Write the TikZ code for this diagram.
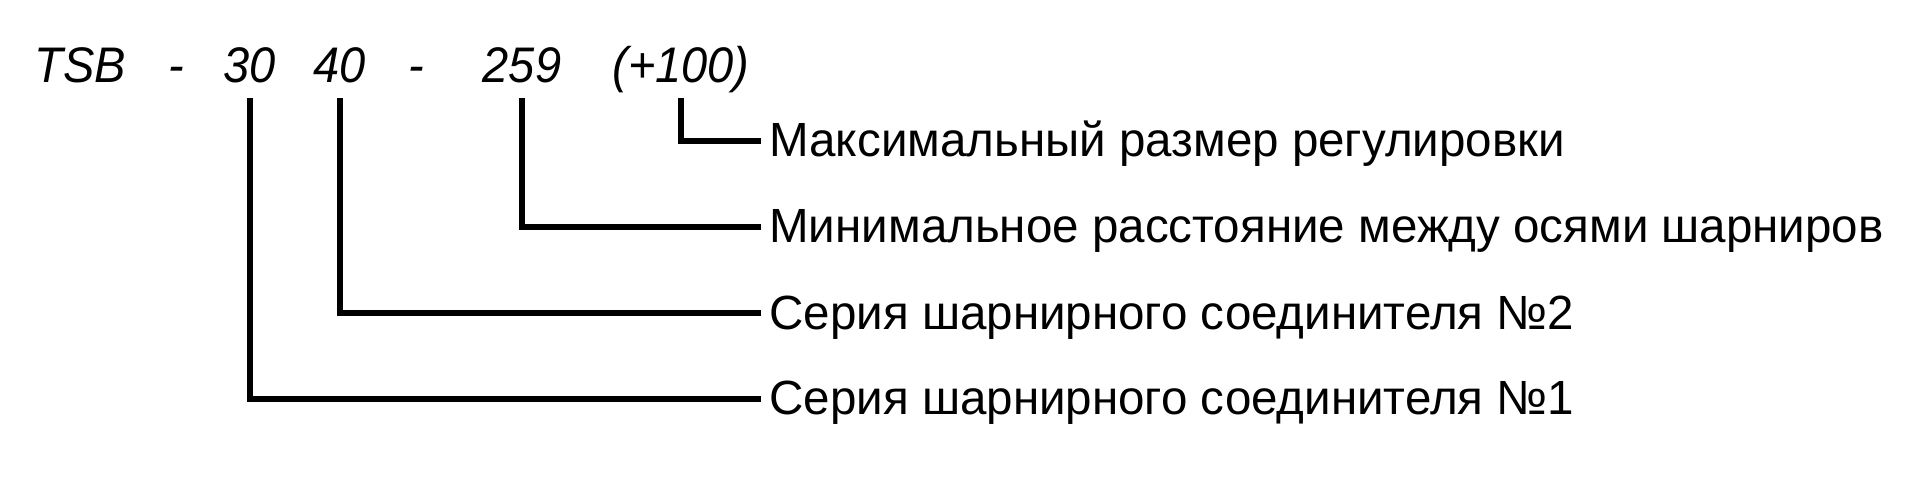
\documentclass[tikz,border=0pt]{standalone}
\usepackage{fontspec}
\setmainfont{Liberation Sans}
\newfontfamily\labfont[FakeStretch=0.99]{Liberation Sans}
\newfontfamily\hdfont[FakeStretch=0.94]{Liberation Sans}
\begin{document}
\begin{tikzpicture}[x=0.5pt,y=-0.5pt,
  hdr/.style={inner sep=0pt, anchor=base, text depth=0pt, font=\hdfont\itshape\fontsize{25}{28}\selectfont},
  lab/.style={inner xsep=4pt, inner ysep=0pt, anchor=base west, text height=16pt, text depth=0pt, font=\labfont\fontsize{24}{28}\selectfont},
  conn/.style={line width=2.7pt, line join=miter, line cap=butt}]
\useasboundingbox (0,0) rectangle (1920,480);
\node[hdr] (tsb) at (80,83) {TSB};
\node[hdr] (d1) at (176,83) {-};
\node[hdr] (n30) at (250,83) {30};
\node[hdr] (n40) at (340,83) {40};
\node[hdr] (d2) at (416,83) {-};
\node[hdr] (n259) at (522,83) {259};
\node[hdr] (n100) at (681,83) {(+100)};
\node[lab] (lab1) at (761,157) {Максимальный размер регулировки};
\node[lab] (lab2) at (761,243) {Минимальное расстояние между осями шарниров};
\node[lab] (lab3) at (761,329) {Серия шарнирного соединителя №2};
\node[lab] (lab4) at (761,415) {Серия шарнирного соединителя №1};
\draw[conn] ([yshift=-7.5pt]n100.south) |- (lab1.west);
\draw[conn] ([yshift=-7.5pt]n259.south) |- (lab2.west);
\draw[conn] ([yshift=-7.5pt]n40.south) |- (lab3.west);
\draw[conn] ([yshift=-7.5pt]n30.south) |- (lab4.west);
\end{tikzpicture}
\end{document}
